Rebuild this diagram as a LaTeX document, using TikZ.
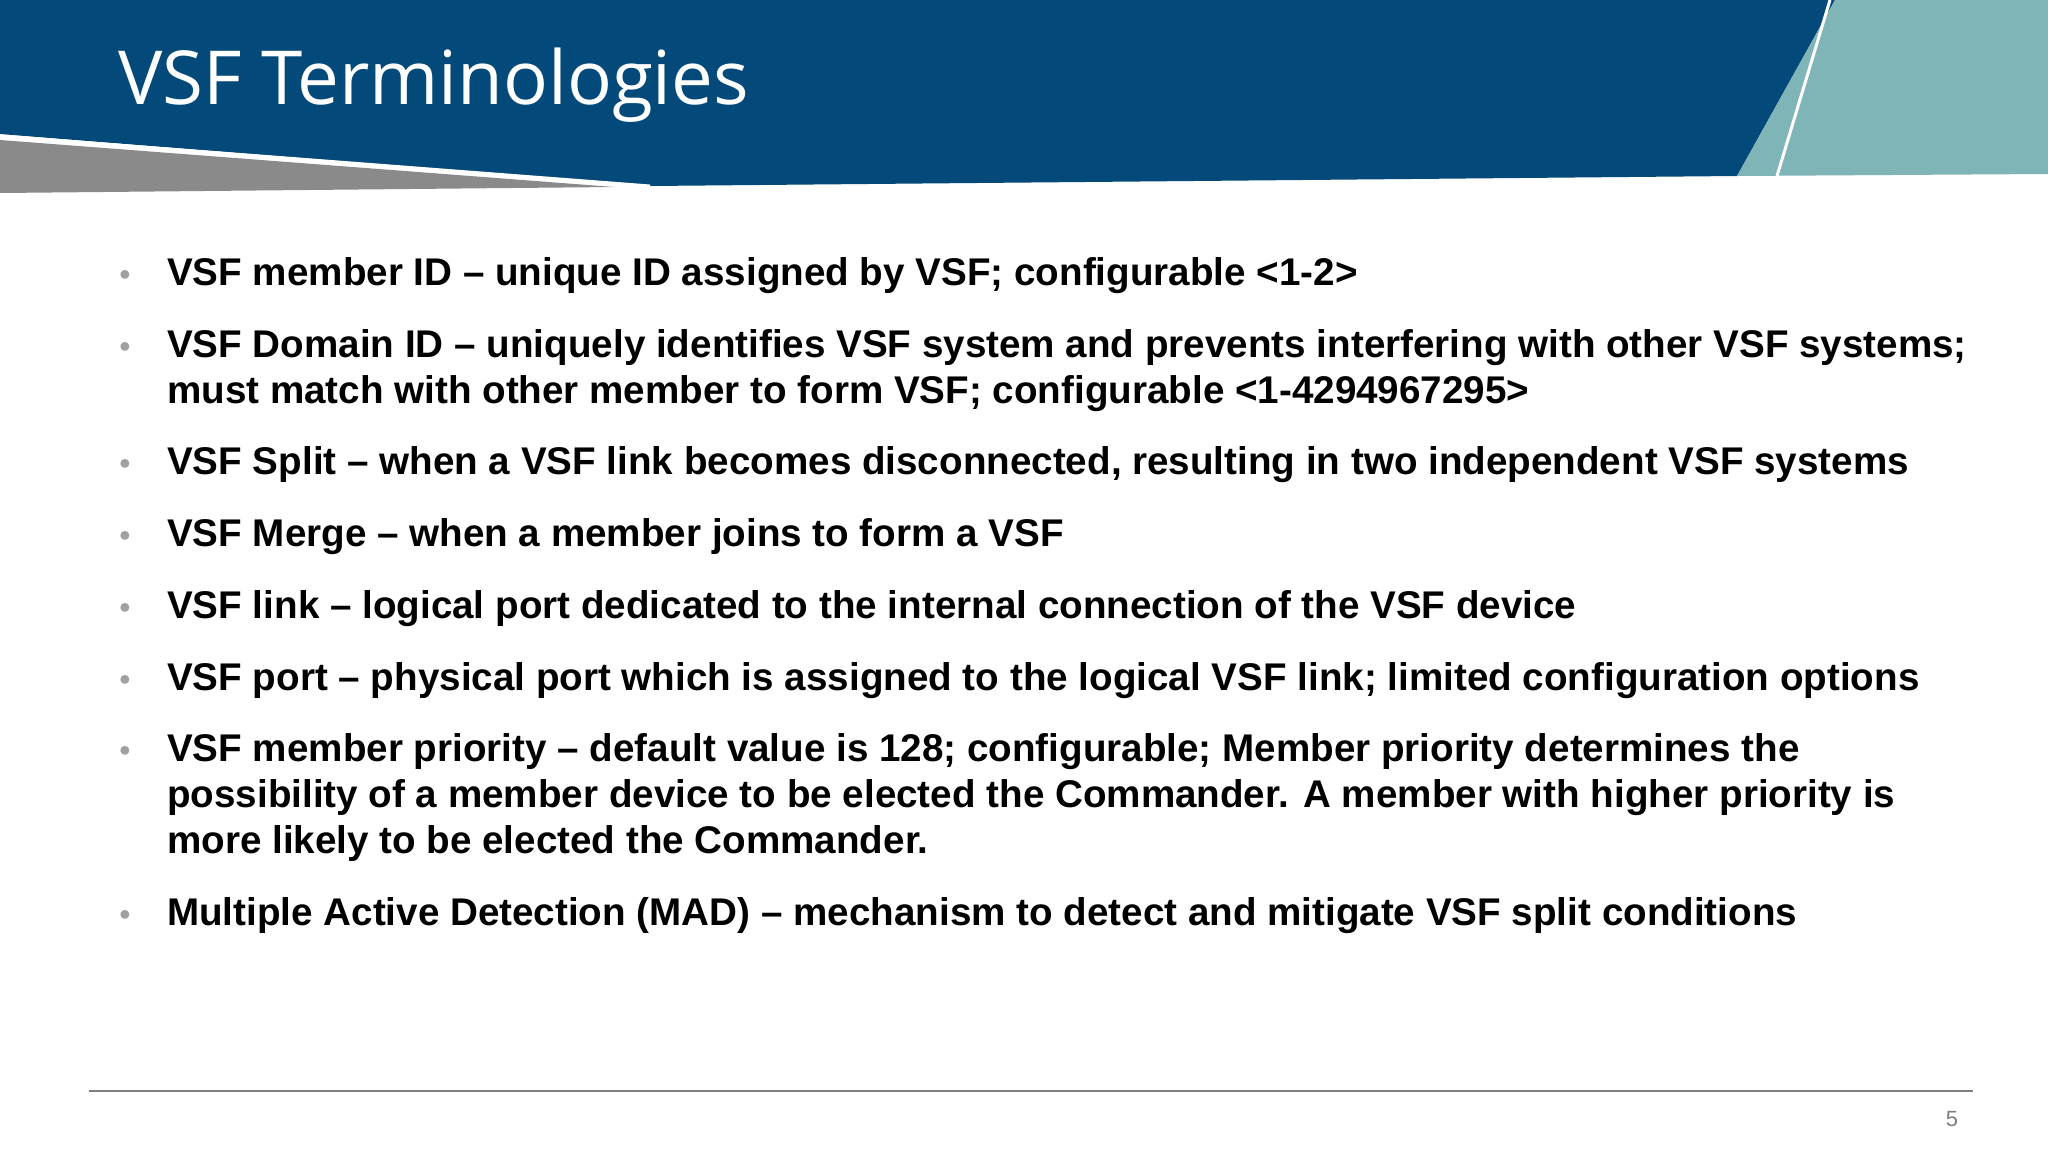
\documentclass[tikz,border=0pt]{standalone}
\usepackage{fontspec}
\setmainfont{Liberation Sans}
\newfontfamily\titlefont{Open Sans}
\definecolor{hdrblue}{HTML}{034A7A}
\definecolor{hdrteal}{HTML}{80B5B7}
\definecolor{hdrgray}{HTML}{8A8A8A}
\definecolor{bulgray}{HTML}{A0A0A0}
\begin{document}
\begin{tikzpicture}[x=1pt,y=-1pt,
  item/.style={anchor=base west,inner sep=0pt,font=\fontsize{38.6}{46}\selectfont\bfseries,align=left},
  bul/.style={anchor=base,inner sep=0pt,text=bulgray,font=\fontsize{32}{32}\selectfont}]
\useasboundingbox (0,0) rectangle (2048,1152);
\fill[white] (0,0) rectangle (2048,1152);
\fill[hdrblue] (0,0) -- (1835,0) -- (1737,176) -- (650,186) -- (0,134) -- cycle;
\fill[hdrgray] (0,140) -- (614,187) -- (0,193) -- cycle;
\draw[white,line width=3] (0,136) -- (650,186);
\fill[hdrteal] (1737,176) -- (1835,0) -- (2048,0) -- (2048,174) -- cycle;
\draw[white,line width=3] (1777,176) -- (1830,0);
\node[anchor=base west,inner sep=0pt,text=white,font=\titlefont\fontsize{74.5}{74.5}\selectfont] (title) at (118,104) {VSF Terminologies};
\foreach \y in {285,357,474,546,618,690,761,925} \node[bul] at (125,\y) {•};
\node[item] (i1) at (167,285) {VSF member ID – unique ID assigned by VSF; configurable <1-2>};
\node[item] (i2) at (167,403) {VSF Domain ID – uniquely identifies VSF system and prevents interfering with other VSF systems;\\must match with other member to form VSF; configurable <1-4294967295>};
\node[item] (i3) at (167,474) {VSF Split – when a VSF link becomes disconnected, resulting in two independent VSF systems};
\node[item] (i4) at (167,546) {VSF Merge – when a member joins to form a VSF};
\node[item] (i5) at (167,618) {VSF link – logical port dedicated to the internal connection of the VSF device};
\node[item] (i6) at (167,690) {VSF port – physical port which is assigned to the logical VSF link; limited configuration options};
\node[item] (i7) at (167,853) {VSF member priority – default value is 128; configurable; Member priority determines the\\possibility of a member device to be elected the Commander. A member with higher priority is\\more likely to be elected the Commander.};
\node[item] (i8) at (167,925) {Multiple Active Detection (MAD) – mechanism to detect and mitigate VSF split conditions};
\draw[gray,line width=1.5] (89,1091) -- (1973,1091);
\node[anchor=base,inner sep=0pt,text=gray,font=\fontsize{22}{22}\selectfont] (pg) at (1952,1126) {5};
\end{tikzpicture}
\end{document}
